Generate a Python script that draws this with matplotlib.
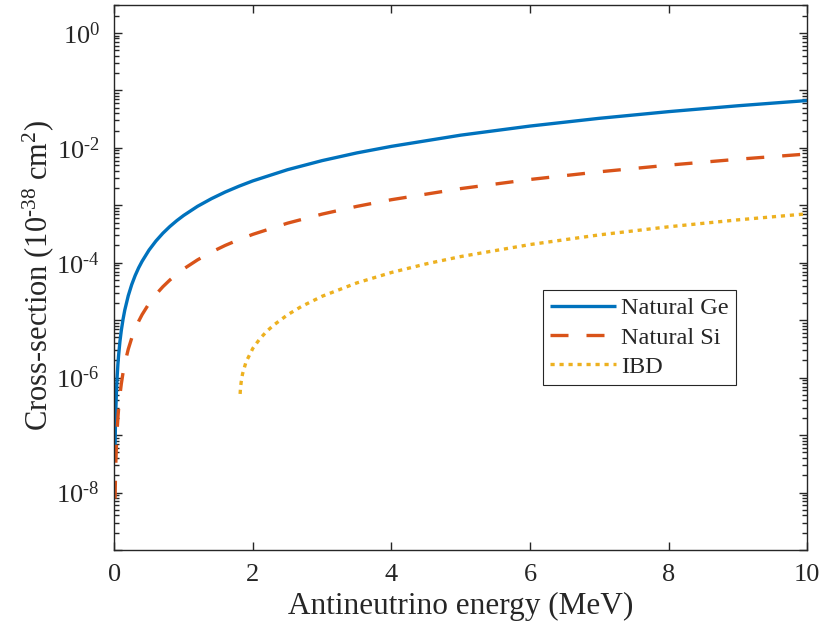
import matplotlib
matplotlib.use("Agg")
import matplotlib.pyplot as plt
from matplotlib.ticker import FixedLocator, FixedFormatter, LogLocator, NullFormatter

plt.rcParams['font.family'] = ['Liberation Serif', 'DejaVu Serif']
plt.rcParams['mathtext.fontset'] = 'custom'
plt.rcParams['mathtext.rm'] = 'Liberation Serif'
plt.rcParams['mathtext.it'] = 'Liberation Serif:italic'
plt.rcParams['mathtext.bf'] = 'Liberation Serif:bold'

# ---- data ----
energy_cevns = [0.01, 0.015, 0.02, 0.03, 0.04, 0.05, 0.06, 0.08, 0.1, 0.125, 0.15, 0.2,
                0.25, 0.3, 0.35, 0.4, 0.5, 0.6, 0.7, 0.8, 0.9, 1.0, 1.2, 1.4, 1.6, 1.8,
                2.0, 2.5, 3.0, 3.5, 4.0, 5.0, 6.0, 7.0, 8.0, 9.0, 10.0]
sigma_ge = [6.65e-8, 1.50e-7, 2.66e-7, 5.99e-7, 1.06e-6, 1.66e-6, 2.39e-6, 4.26e-6,
            6.65e-6, 1.04e-5, 1.50e-5, 2.66e-5, 4.16e-5, 5.99e-5, 8.15e-5, 1.06e-4,
            1.66e-4, 2.39e-4, 3.26e-4, 4.26e-4, 5.39e-4, 6.65e-4, 9.58e-4, 1.30e-3,
            1.70e-3, 2.15e-3, 2.66e-3, 4.16e-3, 5.99e-3, 8.15e-3, 1.06e-2, 1.66e-2,
            2.39e-2, 3.26e-2, 4.26e-2, 5.39e-2, 6.65e-2]
sigma_si = [7.8e-9, 1.76e-8, 3.12e-8, 7.02e-8, 1.25e-7, 1.95e-7, 2.81e-7, 4.99e-7,
            7.8e-7, 1.22e-6, 1.76e-6, 3.12e-6, 4.88e-6, 7.02e-6, 9.56e-6, 1.25e-5,
            1.95e-5, 2.81e-5, 3.82e-5, 4.99e-5, 6.32e-5, 7.8e-5, 1.12e-4, 1.53e-4,
            2.0e-4, 2.53e-4, 3.12e-4, 4.88e-4, 7.02e-4, 9.56e-4, 1.25e-3, 1.95e-3,
            2.81e-3, 3.82e-3, 4.99e-3, 6.32e-3, 7.8e-3]
energy_ibd = [1.815, 1.82, 1.83, 1.85, 1.9, 2.0, 2.1, 2.2, 2.3, 2.5, 2.7, 3.0, 3.5, 4.0,
              4.5, 5.0, 6.0, 7.0, 8.0, 9.0, 10.0]
sigma_ibd = [5.2e-7, 6.4e-7, 8.3e-7, 1.16e-6, 1.87e-6, 3.25e-6, 4.74e-6, 6.4e-6, 8.21e-6,
             1.24e-5, 1.73e-5, 2.61e-5, 4.45e-5, 6.76e-5, 9.54e-5, 1.28e-4, 2.07e-4,
             3.05e-4, 4.22e-4, 5.57e-4, 7.1e-4]
series_names = ['Natural Ge', 'Natural Si', 'IBD']

xtick_values = [0, 2, 4, 6, 8, 10]
ytick_values = [1e-9, 1e-8, 1e-7, 1e-6, 1e-5, 1e-4, 1e-3, 1e-2, 1e-1, 1e0]
ytick_labels = ['', '$10^{\u2010 8}$', '', '$10^{\u2010 6}$', '', '$10^{\u2010 4}$', '',
                '$10^{\u2010 2}$', '', '$10^{0}$']

# ---- figure ----
fig = plt.figure(figsize=(8.23, 6.31), dpi=100)
ax = fig.add_axes([0.139, 0.1284, 0.8416, 0.8629])

lw = 2.4
ax.plot(energy_cevns, sigma_ge, color='#0072BD', lw=lw, solid_capstyle='butt',
        label=series_names[0])
ax.plot(energy_cevns, sigma_si, color='#D95319', lw=lw, dashes=(5.4, 5.4),
        dash_capstyle='butt', label=series_names[1])
ax.plot(energy_ibd, sigma_ibd, color='#EDB120', lw=lw, dashes=(1.25, 1.45),
        dash_capstyle='butt', label=series_names[2])

ax.set_yscale('log')
ax.set_xlim(0, 10)
ax.set_ylim(1e-9, 3)

ax.xaxis.set_major_locator(FixedLocator(xtick_values))
ax.set_xticklabels([str(v) for v in xtick_values])
ax.yaxis.set_major_locator(FixedLocator(ytick_values))
ax.yaxis.set_major_formatter(FixedFormatter(ytick_labels))
ax.yaxis.set_minor_locator(LogLocator(base=10, subs=[2, 3, 4, 5, 6, 7, 8, 9], numticks=30))
ax.yaxis.set_minor_formatter(NullFormatter())

edge = '#262626'
for s in ax.spines.values():
    s.set_color(edge)
    s.set_linewidth(1.0)
ax.tick_params(which='both', direction='in', top=True, right=True, color=edge,
               labelcolor=edge, labelsize=19, width=1.0)
ax.tick_params(which='major', length=6)
ax.tick_params(which='minor', length=3.5)
ax.tick_params(axis='x', pad=10)
ax.tick_params(axis='y', pad=10.5)

ax.set_xlabel('Antineutrino energy (MeV)', fontsize=22.5, color=edge, labelpad=4)
ax.set_ylabel('Cross-section (10$^{\u2010 38}$ cm$^{2}$)', fontsize=22,
              color=edge, labelpad=2)
ax.yaxis.set_label_coords(-0.084, 0.505)

leg = ax.legend(loc='upper left', bbox_to_anchor=(0.619, 0.4775), fontsize=17.5,
                frameon=True, fancybox=False, edgecolor=edge, framealpha=1,
                handlelength=2.7, handletextpad=0.2, borderpad=0.3,
                labelspacing=0.3, borderaxespad=0)
leg.get_frame().set_linewidth(0.8)
for t in leg.get_texts():
    t.set_color(edge)

fig.savefig('out.png', dpi=100)
